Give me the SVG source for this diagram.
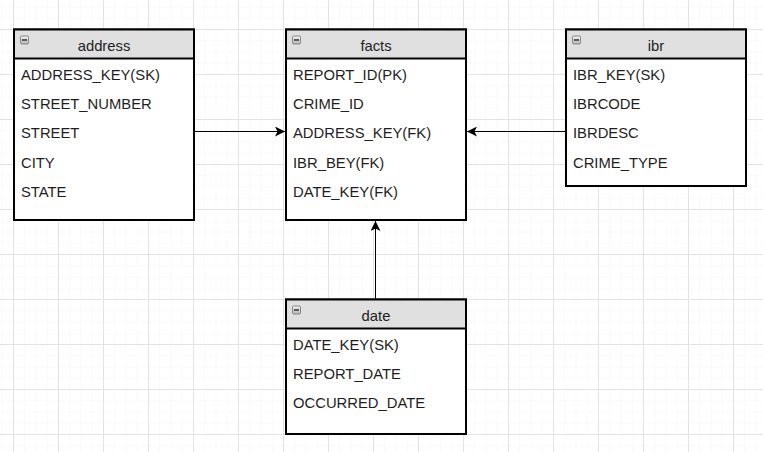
<svg xmlns="http://www.w3.org/2000/svg" width="763" height="452" viewBox="0 0 763 452">
<defs>
<pattern id="minor" patternUnits="userSpaceOnUse" x="13" y="29" width="11.25" height="11.25">
<path d="M0 0H11.25M0 0V11.25" fill="none" stroke="#f3f3f3" stroke-width="1"/>
</pattern>
<pattern id="major" patternUnits="userSpaceOnUse" x="13" y="29" width="45" height="45">
<path d="M0 0.5H45M0.5 0V45" fill="none" stroke="#e3e3e3" stroke-width="1"/>
</pattern>
<marker id="arr" viewBox="0 0 10 10" refX="10" refY="5" markerWidth="10" markerHeight="10" markerUnits="userSpaceOnUse" orient="auto">
<path d="M0 0L10 5L0 10L2.5 5Z" fill="#000"/>
</marker>
<linearGradient id="ig" x1="0" y1="0" x2="0" y2="1">
<stop offset="0" stop-color="#f4f4f4"/>
<stop offset="1" stop-color="#b5b5b5"/>
</linearGradient>
</defs>
<style>
.box{fill:#fff;stroke:#000;stroke-width:2}
.hdr{fill:#e0e0e0;stroke:#000;stroke-width:2}
.t{font-family:"Liberation Sans",Arial,sans-serif;font-size:14.8px;fill:#1e1e1e}
.h{font-family:"Liberation Sans",Arial,sans-serif;font-size:14.8px;fill:#1e1e1e;text-anchor:middle}
.ic{fill:url(#ig);stroke:#7a7a7a;stroke-width:0.9}
.mn{stroke:#333;stroke-width:1.5}
.c{fill:none;stroke:#000;stroke-width:1;marker-end:url(#arr)}
</style>
<rect width="763" height="452" fill="#fff"/>
<rect width="763" height="452" fill="url(#minor)"/>
<rect width="763" height="452" fill="url(#major)"/>

<g id="connectors">
<path class="c" d="M194 131.5H285"/>
<path class="c" d="M566 131.5H467"/>
<path class="c" d="M375.5 299V221"/>
</g>

<g id="address">
<rect class="box" x="14" y="29.5" width="180" height="190.5"/>
<rect class="hdr" x="14" y="29.5" width="180" height="29"/>
<rect class="ic" x="20.5" y="36" width="8" height="8" rx="1.2"/>
<path class="mn" d="M22 40H27"/>
<text class="h" x="104" y="51">address</text>
<text class="t" x="21" y="79.8">ADDRESS_KEY(SK)</text>
<text class="t" x="21" y="109">STREET_NUMBER</text>
<text class="t" x="21" y="138.3">STREET</text>
<text class="t" x="21" y="167.5">CITY</text>
<text class="t" x="21" y="196.8">STATE</text>
</g>

<g id="facts">
<rect class="box" x="286" y="29.5" width="180" height="190.5"/>
<rect class="hdr" x="286" y="29.5" width="180" height="29"/>
<rect class="ic" x="292.5" y="36" width="8" height="8" rx="1.2"/>
<path class="mn" d="M294 40H299"/>
<text class="h" x="376" y="51">facts</text>
<text class="t" x="293" y="79.8">REPORT_ID(PK)</text>
<text class="t" x="293" y="109">CRIME_ID</text>
<text class="t" x="293" y="138.3">ADDRESS_KEY(FK)</text>
<text class="t" x="293" y="167.5">IBR_BEY(FK)</text>
<text class="t" x="293" y="196.8">DATE_KEY(FK)</text>
</g>

<g id="ibr">
<rect class="box" x="566" y="29.5" width="180" height="156.5"/>
<rect class="hdr" x="566" y="29.5" width="180" height="29"/>
<rect class="ic" x="572.5" y="36" width="8" height="8" rx="1.2"/>
<path class="mn" d="M574 40H579"/>
<text class="h" x="656" y="51">ibr</text>
<text class="t" x="573" y="79.8">IBR_KEY(SK)</text>
<text class="t" x="573" y="109">IBRCODE</text>
<text class="t" x="573" y="138.3">IBRDESC</text>
<text class="t" x="573" y="167.5">CRIME_TYPE</text>
</g>

<g id="date">
<rect class="box" x="286" y="299.5" width="180" height="134.5"/>
<rect class="hdr" x="286" y="299.5" width="180" height="29"/>
<rect class="ic" x="292.5" y="306" width="8" height="8" rx="1.2"/>
<path class="mn" d="M294 310H299"/>
<text class="h" x="376" y="321">date</text>
<text class="t" x="293" y="349.8">DATE_KEY(SK)</text>
<text class="t" x="293" y="379">REPORT_DATE</text>
<text class="t" x="293" y="408.3">OCCURRED_DATE</text>
</g>
</svg>
